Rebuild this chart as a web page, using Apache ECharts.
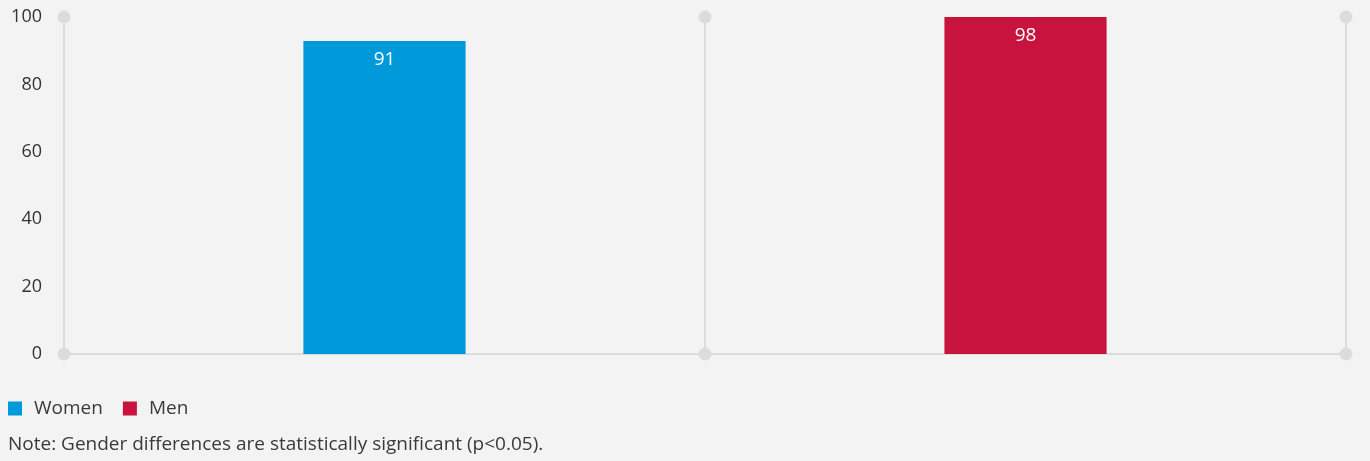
<!DOCTYPE html>
<html>
<head>
<meta charset="utf-8">
<script src="https://cdn.jsdelivr.net/npm/echarts@6/dist/echarts.min.js"></script>
<style>
html,body{margin:0;padding:0;background:#f3f3f3;}
#c{width:1370px;height:461px;}
</style>
</head>
<body>
<div id="c"></div>
<script>
const categories = ['Women', 'Men'];
const seriesNames = ['Women', 'Men'];
const womenValues = [91, '-'];
const menValues = ['-', 98];
const yTicks = [0, 20, 40, 60, 80, 100];
const boundaries = [0, 1, 2];
const colors = ['#0099da', '#c8133f'];
const noteText = 'Note: Gender differences are statistically significant (p<0.05).';

const FONT = '"Open Sans", "Noto Sans", sans-serif';
const chart = echarts.init(document.getElementById('c'));
const labelCfg = {show: true, position: 'insideTop', distance: 9, color: '#ffffff', fontSize: 19, fontFamily: FONT};
chart.setOption({
  backgroundColor: '#f3f3f3',
  animation: false,
  textStyle: {fontFamily: FONT},
  grid: {left: 64, right: 24, top: 17, bottom: 107},
  legend: {
    left: 3, top: 394, itemWidth: 14, itemHeight: 14, itemGap: 20,
    icon: 'rect',
    textStyle: {fontSize: 19, color: '#3a3a3a', fontFamily: FONT, padding: [0, 0, 0, 7]},
    data: seriesNames
  },
  graphic: [{
    type: 'text', left: 8, top: 435,
    style: {text: noteText, fontSize: 19, fill: '#3a3a3a', fontFamily: FONT}
  }],
  xAxis: [{
    type: 'category', data: categories, boundaryGap: true,
    axisLine: {show: true, lineStyle: {color: '#dcdcdc', width: 2}},
    axisTick: {show: false}, axisLabel: {show: false}, splitLine: {show: false}
  }, {
    type: 'value', min: 0, max: 2, show: false
  }],
  yAxis: [{
    type: 'value', min: 0, max: 100, interval: 20,
    axisLine: {show: false}, axisTick: {show: false}, splitLine: {show: false},
    axisLabel: {color: '#333', fontSize: 18, margin: 22, fontFamily: FONT}
  }, {
    type: 'value', min: 0, max: 98, show: false
  }],
  series: [{
    name: seriesNames[0], type: 'bar', data: womenValues, yAxisIndex: 1,
    barWidth: '25.3%', barGap: '-100%', itemStyle: {color: colors[0]}, label: labelCfg
  }, {
    name: seriesNames[1], type: 'bar', data: menValues, yAxisIndex: 1,
    barWidth: '25.3%', barGap: '-100%', itemStyle: {color: colors[1]}, label: labelCfg
  }, {
    name: 'grid', type: 'scatter', xAxisIndex: 1, yAxisIndex: 0, data: [],
    silent: true,
    markLine: {
      silent: true, symbol: ['circle', 'circle'], symbolSize: 13,
      label: {show: false},
      lineStyle: {color: '#dcdcdc', width: 2, type: 'solid'},
      itemStyle: {color: '#dcdcdc'},
      emphasis: {disabled: true},
      data: boundaries.map(b => ({xAxis: b}))
    }
  }]
});
</script>
</body>
</html>
